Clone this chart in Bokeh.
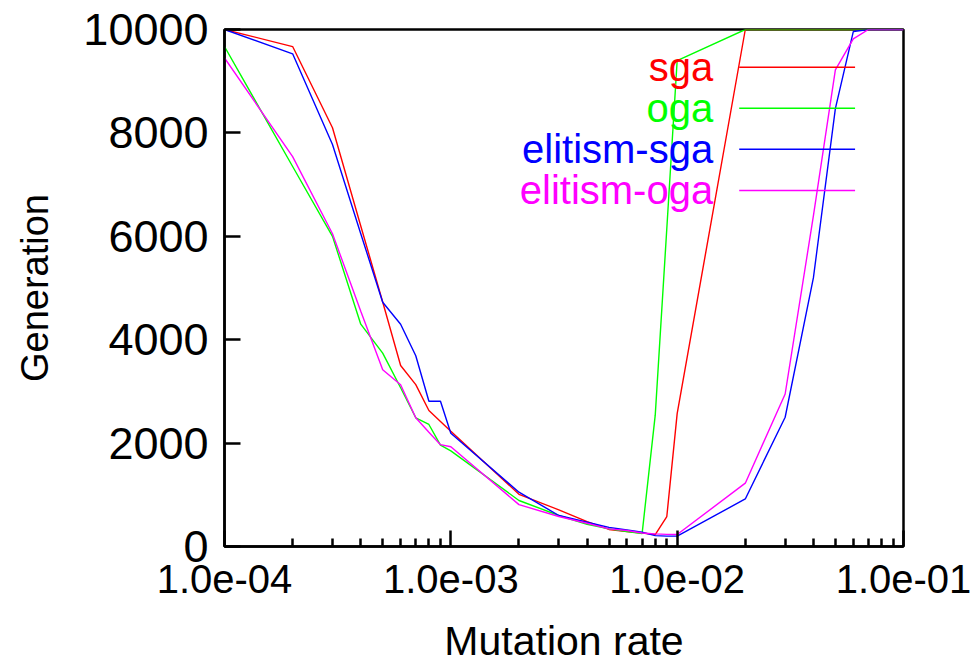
from bokeh.plotting import figure
from bokeh.models import FixedTicker, CustomJSTickFormatter, Range1d, Label, PolyAnnotation
from bokeh.embed import file_html
from bokeh.resources import INLINE

# ---------------- data ----------------
mutation_rate = [1e-4, 2e-4, 3e-4, 4e-4, 5e-4, 6e-4, 7e-4, 8e-4, 9e-4,
                 1e-3, 2e-3, 3e-3, 4e-3, 5e-3, 6e-3, 7e-3, 8e-3, 9e-3,
                 1e-2, 2e-2, 3e-2, 4e-2, 5e-2, 6e-2, 7e-2, 8e-2, 9e-2, 1e-1]

sga = [10000, 9670, 8100, 6200, 4730, 3500, 3130, 2630, 2420,
       2230, 1010, 710, 480, 330, 290, 260, 230, 580,
       2570, 10000, 10000, 10000, 10000, 10000, 10000, 10000, 10000, 10000]

oga = [9670, 7350, 6000, 4300, 3740, 3070, 2490, 2360, 1960,
       1850, 890, 600, 430, 340, 290, 250, 2540, 6150,
       9400, 10000, 10000, 10000, 10000, 10000, 10000, 10000, 10000, 10000]

elitism_sga = [10000, 9530, 7775, 6050, 4725, 4300, 3690, 2810, 2810,
               2190, 1050, 600, 470, 370, 320, 275, 210, 200,
               200, 920, 2500, 5200, 8470, 9960, 10000, 10000, 10000, 10000]

elitism_oga = [9450, 7540, 6050, 4550, 3420, 3130, 2490, 2210, 1970,
               1930, 810, 580, 450, 340, 310, 260, 245, 235,
               232, 1225, 2950, 6400, 9220, 9820, 10000, 10000, 10000, 10000]

series_names = ["sga", "oga", "elitism-sga", "elitism-oga"]
series_values = [sga, oga, elitism_sga, elitism_oga]
series_colors = ["#ff0000", "#00ff00", "#0000ff", "#ff00ff"]

x_ticks = [1e-4, 1e-3, 1e-2, 1e-1]
x_tick_labels = ["1.0e-04", "1.0e-03", "1.0e-02", "1.0e-01"]
x_minor_ticks = [m * d for d in (1e-4, 1e-3, 1e-2) for m in range(2, 10)]
y_ticks = [0, 2000, 4000, 6000, 8000, 10000]

FONT = "Liberation Sans"

p = figure(width=976, height=668, x_axis_type="log",
           x_range=Range1d(1e-4, 1e-1), y_range=Range1d(0, 10000),
           output_backend="svg", toolbar_location=None,
           min_border_left=224, min_border_right=73,
           min_border_top=29, min_border_bottom=122)

p.grid.visible = False
p.background_fill_color = "white"
p.border_fill_color = "white"
p.outline_line_color = "black"
p.outline_line_width = 2.5

for vals, col in zip(series_values, series_colors):
    p.line(mutation_rate, vals, line_color=col, line_width=1.4)

# axes
xa = p.xaxis[0]
xa.ticker = FixedTicker(ticks=x_ticks, minor_ticks=x_minor_ticks)
xa.formatter = CustomJSTickFormatter(args=dict(vals=x_ticks, labs=x_tick_labels), code="""
let best = 0, bd = Infinity;
for (let i = 0; i < vals.length; i++) {
  const d = Math.abs(Math.log10(tick) - Math.log10(vals[i]));
  if (d < bd) { bd = d; best = i; }
}
return labs[best];
""")
xa.axis_label = "Mutation rate"

ya = p.yaxis[0]
ya.ticker = FixedTicker(ticks=y_ticks)
ya.axis_label = "Generation"

for ax in (xa, ya):
    ax.axis_line_width = 2.5
    ax.axis_line_color = "black"
    ax.major_tick_in = 16
    ax.major_tick_out = 0
    ax.minor_tick_in = 8
    ax.minor_tick_out = 0
    ax.major_tick_line_width = 2.5
    ax.minor_tick_line_width = 2.5
    ax.major_label_text_font = FONT
    ax.axis_label_text_font = FONT
    ax.axis_label_text_font_style = "normal"
    ax.major_label_text_color = "black"
    ax.axis_label_text_color = "black"

ya.minor_tick_line_color = None
xa.major_label_text_font_size = "40px"
ya.major_label_text_font_size = "45px"
xa.axis_label_text_font_size = "41px"
ya.axis_label_text_font_size = "38px"
xa.major_label_standoff = 18
ya.major_label_standoff = 16
xa.axis_label_standoff = 22
ya.axis_label_standoff = 24

# gnuplot-style key: text right-aligned, sample line to the right
key_text_x = 0.01442
key_line_x0, key_line_x1 = 0.0188, 0.0611
key_rows_y = [9271, 8478, 7685, 6886]
for name, col, ky in zip(series_names, series_colors, key_rows_y):
    p.add_layout(Label(x=key_text_x, y=ky, text=name, text_align="right",
                       text_baseline="middle", text_color=col,
                       text_font=FONT, text_font_size="40px"))
    p.add_layout(PolyAnnotation(xs=[key_line_x0, key_line_x1], ys=[ky, ky],
                                line_color=col, line_width=1.4, line_alpha=1.0,
                                fill_alpha=0))

open("out.html", "w").write(file_html(p, INLINE))
